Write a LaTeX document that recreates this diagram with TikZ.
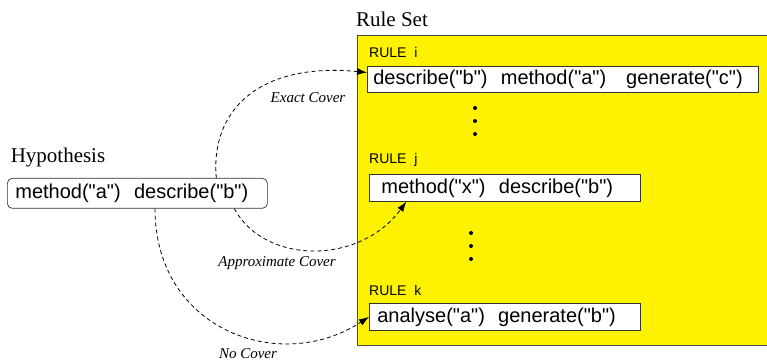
\documentclass[tikz,border=0pt]{standalone}
\usepackage{fontspec}
\setmainfont{Liberation Serif}
\newfontfamily\boxfont{Liberation Sans}
\usepackage{tikz}
\usetikzlibrary{arrows.meta, positioning, calc}

\tikzset{
  rulebox/.style={draw=black!80, fill=white, line width=0.7pt, anchor=north west, inner ysep=0pt,
    minimum height=27pt, align=left, font=\boxfont\fontsize{20}{24}\selectfont},
  rulename/.style={anchor=west, inner sep=0pt, font=\boxfont\fontsize{14}{16}\selectfont},
  cover/.style={dash pattern=on 4pt off 3pt, line width=0.8pt, -{Latex[length=10pt, width=7pt]}},
  covername/.style={inner sep=1pt, font=\itshape\fontsize{15}{17}\selectfont},
  heading/.style={font=\fontsize{21}{24}\selectfont},
}

\begin{document}
\begin{tikzpicture}[x=1pt, y=-1pt]
  \useasboundingbox (0,0) rectangle (767,363);

  \node[draw=black!70, fill=yellow, line width=0.7pt, anchor=north west, inner sep=0pt,
    minimum width=420pt, minimum height=310pt] (ruleset) at (357,35) {};
  \node[heading] (setname) at (392,19) {Rule Set};

  \node[heading] (hypname) at (58,157) {Hypothesis};
  \node[rulebox, rounded corners=5pt, inner xsep=8pt, text width=244pt, minimum height=30pt] (hyp) at (7,178)
    {method("a")\ \ describe("b")};

  \node[rulename] (namei) at (369,52) {RULE\ \ i};
  \node[rulebox, inner xsep=6pt, text width=379pt, minimum height=26pt] (rulei) at (367,66)
    {describe("b")\ \ method("a")\ \ \ generate("c")};
  \foreach \y in {108,121,134}
    \fill (475,\y) circle (2pt);

  \node[rulename] (namej) at (369,160) {RULE\ \ j};
  \node[rulebox, inner xsep=12pt, text width=247pt] (rulej) at (369,174)
    {method("x")\ \ describe("b")};
  \foreach \y in {233,246,259}
    \fill (471,\y) circle (2pt);

  \node[rulename] (namek) at (369,290) {RULE\ \ k};
  \node[rulebox, inner xsep=8pt, text width=255pt] (rulek) at (369,303)
    {analyse("a")\ \ generate("b")};

  \draw[cover] (hyp.11.3) .. controls (210,110) and (260,62) .. (rulei.178.5);
  \draw[cover] (hyp.-9.5) .. controls (265,265) and (360,265) .. (rulej.-172.6);
  \draw[cover] (hyp.-41.4) .. controls (155,330) and (280,375) .. (rulek.west);

  \node[covername] (exact) at (308,98) {Exact Cover};
  \node[covername] (approx) at (277,263) {Approximate Cover};
  \node[covername] (nocover) at (248,354) {No Cover};
\end{tikzpicture}
\end{document}
